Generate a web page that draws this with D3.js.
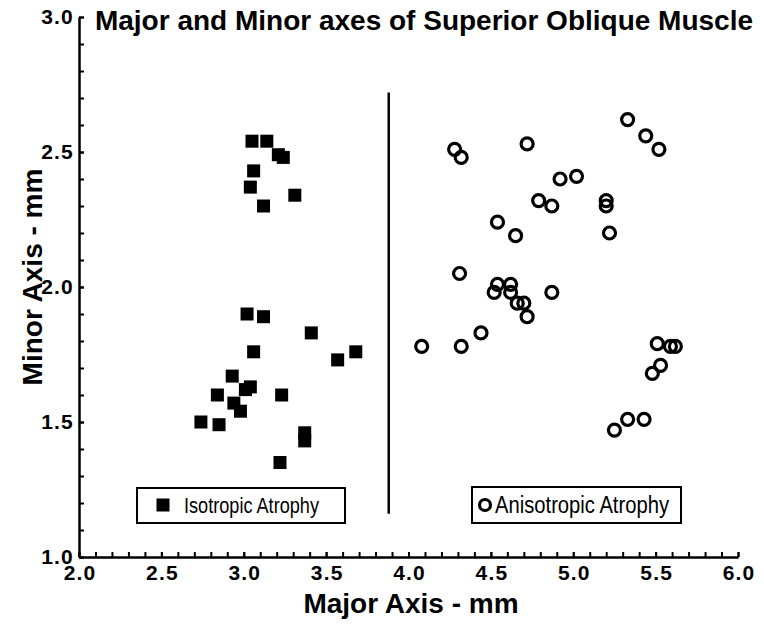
<!DOCTYPE html>
<html>
<head>
<meta charset="utf-8">
<script src="https://cdn.jsdelivr.net/npm/d3@7"></script>
<style>
  body { margin: 0; background: #fff; }
</style>
</head>
<body>
<div id="chart"></div>
<script>
// Isotropic atrophy (filled squares)
var isoMajor = [3.05, 3.14, 3.21, 3.24, 3.06, 3.04, 3.31, 3.12,
                3.02, 3.12, 3.41, 3.06, 3.68, 3.57, 2.93, 3.04, 3.01,
                2.84, 2.94, 2.98, 3.23, 2.74, 2.85, 3.37, 3.37, 3.22];
var isoMinor = [2.54, 2.54, 2.49, 2.48, 2.43, 2.37, 2.34, 2.30,
                1.90, 1.89, 1.83, 1.76, 1.76, 1.73, 1.67, 1.63, 1.62,
                1.60, 1.57, 1.54, 1.60, 1.50, 1.49, 1.46, 1.43, 1.35];

// Anisotropic atrophy (open circles)
var anisoMajor = [5.33, 5.44, 5.52, 4.28, 4.32, 4.72, 4.92, 5.02, 4.79, 4.87,
                  5.20, 5.20, 4.54, 4.65, 5.22, 4.31, 4.54, 4.62, 4.52, 4.62,
                  4.66, 4.70, 4.72, 4.87, 4.44, 4.08, 4.32, 5.51, 5.59, 5.62,
                  5.53, 5.48, 5.33, 5.43, 5.25];
var anisoMinor = [2.62, 2.56, 2.51, 2.51, 2.48, 2.53, 2.40, 2.41, 2.32, 2.30,
                  2.32, 2.30, 2.24, 2.19, 2.20, 2.05, 2.01, 2.01, 1.98, 1.98,
                  1.94, 1.94, 1.89, 1.98, 1.83, 1.78, 1.78, 1.79, 1.78, 1.78,
                  1.71, 1.68, 1.51, 1.51, 1.47];

// separator line between the two groups
var dividerMajor = 3.88;
var dividerMinor = [1.16, 2.72];

var xTicks = [2.0, 2.5, 3.0, 3.5, 4.0, 4.5, 5.0, 5.5, 6.0];
var yTicks = [1.0, 1.5, 2.0, 2.5, 3.0];

var title = "Major and Minor axes of Superior Oblique Muscle";
var xTitle = "Major Axis - mm";
var yTitle = "Minor Axis - mm";
var legendLabels = ["Isotropic Atrophy", "Anisotropic Atrophy"];

var width = 764, height = 632;
var margin = {top: 17, right: 26, bottom: 75, left: 79};
var font = "'Liberation Sans', Arial, Helvetica, sans-serif";

var x = d3.scaleLinear().domain([2, 6]).range([margin.left, width - margin.right]);
var y = d3.scaleLinear().domain([1, 3]).range([height - margin.bottom, margin.top]);

var svg = d3.select("#chart").append("svg")
  .attr("width", width)
  .attr("height", height)
  .attr("viewBox", "0 0 " + width + " " + height);

// minor ticks every 0.1
var xMinor = d3.range(20, 61).map(function(d) { return d / 10; });
var yMinor = d3.range(10, 31).map(function(d) { return d / 10; });

svg.append("g")
  .attr("transform", "translate(0," + y(1) + ")")
  .call(d3.axisBottom(x).tickValues(xMinor).tickSize(-5).tickSizeOuter(0).tickFormat(""));
svg.append("g")
  .attr("transform", "translate(" + x(2) + ",0)")
  .call(d3.axisLeft(y).tickValues(yMinor).tickSize(-5).tickSizeOuter(0).tickFormat(""));

var xAxis = svg.append("g")
  .attr("transform", "translate(0," + y(1) + ")")
  .call(d3.axisBottom(x).tickValues(xTicks).tickSize(-5).tickSizeOuter(0)
    .tickPadding(8).tickFormat(d3.format(".1f")));
var yAxis = svg.append("g")
  .attr("transform", "translate(" + x(2) + ",0)")
  .call(d3.axisLeft(y).tickValues(yTicks).tickSize(-5).tickSizeOuter(0)
    .tickPadding(5).tickFormat(d3.format(".1f")));

svg.selectAll(".domain").attr("stroke", "#000").attr("stroke-width", 2);
svg.selectAll(".tick line").attr("stroke", "#000").attr("stroke-width", 2);
svg.selectAll(".tick text")
  .attr("fill", "#000")
  .attr("font-family", font)
  .attr("font-weight", "bold")
  .attr("font-size", "21px")
  .attr("letter-spacing", "1.2px");
xAxis.selectAll(".tick text").attr("dx", "0.6px");

// divider
svg.append("line")
  .attr("x1", x(dividerMajor)).attr("x2", x(dividerMajor))
  .attr("y1", y(dividerMinor[0])).attr("y2", y(dividerMinor[1]))
  .attr("stroke", "#000")
  .attr("stroke-width", 2.5);

// points
var sq = 13;
svg.append("g").selectAll("rect")
  .data(isoMajor)
  .enter().append("rect")
  .attr("x", function(d) { return x(d) - sq / 2; })
  .attr("y", function(d, i) { return y(isoMinor[i]) - sq / 2; })
  .attr("width", sq)
  .attr("height", sq)
  .attr("fill", "#000");

svg.append("g").selectAll("circle")
  .data(anisoMajor)
  .enter().append("circle")
  .attr("cx", function(d) { return x(d); })
  .attr("cy", function(d, i) { return y(anisoMinor[i]); })
  .attr("r", 6)
  .attr("fill", "none")
  .attr("stroke", "#000")
  .attr("stroke-width", 3.2);

// title and axis titles
svg.append("text")
  .attr("x", 424).attr("y", 30)
  .attr("text-anchor", "middle")
  .attr("font-family", font)
  .attr("font-weight", "bold")
  .attr("font-size", "28px")
  .text(title);

svg.append("text")
  .attr("x", 411).attr("y", 613)
  .attr("text-anchor", "middle")
  .attr("font-family", font)
  .attr("font-weight", "bold")
  .attr("font-size", "28px")
  .text(xTitle);

svg.append("text")
  .attr("transform", "translate(42,277) rotate(-90)")
  .attr("text-anchor", "middle")
  .attr("font-family", font)
  .attr("font-weight", "bold")
  .attr("font-size", "28px")
  .text(yTitle);

// legends
var leg1 = svg.append("g");
leg1.append("rect")
  .attr("x", 137).attr("y", 488).attr("width", 208).attr("height", 35)
  .attr("fill", "#fff").attr("stroke", "#000").attr("stroke-width", 2);
leg1.append("rect")
  .attr("x", 163 - sq / 2).attr("y", 505 - sq / 2).attr("width", sq).attr("height", sq)
  .attr("fill", "#000");
leg1.append("text")
  .attr("x", 184).attr("y", 513)
  .attr("font-family", font)
  .attr("font-size", "22.5px")
  .attr("textLength", 135)
  .attr("lengthAdjust", "spacingAndGlyphs")
  .text(legendLabels[0]);

var leg2 = svg.append("g");
leg2.append("rect")
  .attr("x", 472).attr("y", 487).attr("width", 209).attr("height", 36)
  .attr("fill", "#fff").attr("stroke", "#000").attr("stroke-width", 2);
leg2.append("circle")
  .attr("cx", 485).attr("cy", 505).attr("r", 5.5)
  .attr("fill", "none").attr("stroke", "#000").attr("stroke-width", 3.2);
leg2.append("text")
  .attr("x", 495).attr("y", 513)
  .attr("font-family", font)
  .attr("font-size", "23.5px")
  .attr("textLength", 174)
  .attr("lengthAdjust", "spacingAndGlyphs")
  .text(legendLabels[1]);
</script>
</body>
</html>
